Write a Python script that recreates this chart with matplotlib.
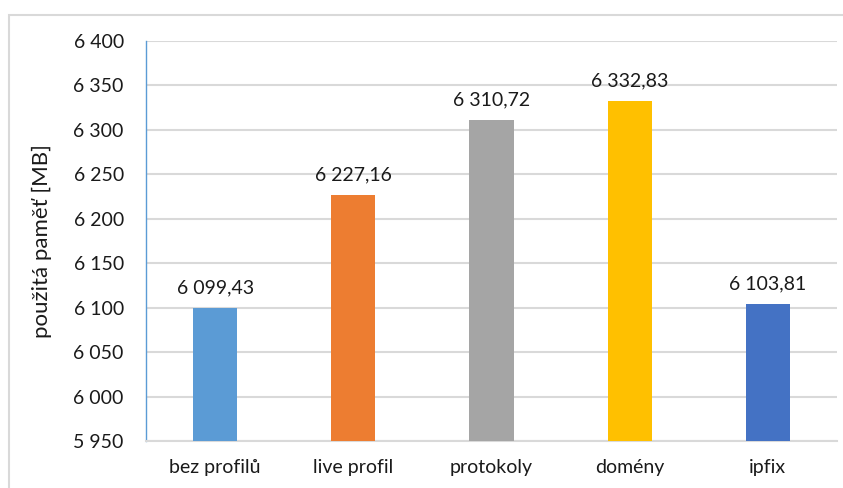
import matplotlib.pyplot as plt
from matplotlib.patches import Rectangle

categories = ["bez profilů", "live profil", "protokoly", "domény", "ipfix"]
values = [6099.43, 6227.16, 6310.72, 6332.83, 6103.81]
colors = ["#5B9BD5", "#ED7D31", "#A5A5A5", "#FFC000", "#4472C4"]
y_ticks = list(range(5950, 6401, 50))


def fmt(v, dec=0):
    s = f"{v:,.{dec}f}"
    return s.replace(",", " ").replace(".", ",")


plt.rcParams["font.family"] = ["Lato", "DejaVu Sans"]
txt = "#1a1a1a"

fig = plt.figure(figsize=(8.43, 4.88), dpi=100)
ax = fig.add_axes([146 / 843, 1 - 441 / 488, 691 / 843, 400 / 488])

# chart border
fig.patches.append(Rectangle((9 / 843, -0.05), 1.0, 1 - 15 / 488 + 0.05,
                             transform=fig.transFigure, fill=False,
                             edgecolor="#D9D9D9", linewidth=1.5))

x = range(len(categories))
ax.bar(x, values, width=0.32, color=colors, zorder=3)

for i, v in enumerate(values):
    ax.text(i, v + 13, fmt(v, 2), ha="center", va="bottom", fontsize=14,
            color=txt)

ax.set_ylim(5950, 6400)
ax.set_xlim(-0.5, len(categories) - 0.5)
ax.set_yticks(y_ticks)
ax.set_yticklabels([fmt(t) for t in y_ticks], fontsize=14, color=txt)
ax.set_xticks(list(x))
ax.set_xticklabels(categories, fontsize=14, color=txt)
ax.tick_params(axis="both", length=0)
ax.tick_params(axis="x", pad=13)
ax.tick_params(axis="y", pad=16)

ax.grid(axis="y", color="#D9D9D9", linewidth=1.5, zorder=0)
for side in ["top", "right"]:
    ax.spines[side].set_visible(False)
ax.spines["left"].set_color("#5B9BD5")
ax.spines["left"].set_linewidth(1.0)
ax.spines["bottom"].set_color("#D9D9D9")
ax.spines["bottom"].set_linewidth(1.5)

ax.set_ylabel("použitá paměť [MB]", fontsize=16, color=txt)
ax.yaxis.set_label_coords(-94 / 691, 0.5)

fig.savefig("out.png", dpi=100)
